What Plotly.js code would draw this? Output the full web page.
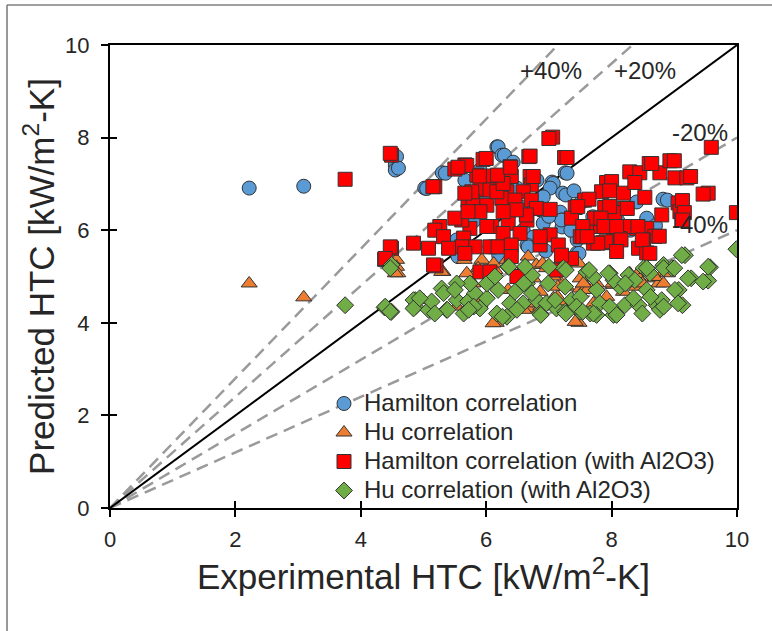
<!DOCTYPE html>
<html>
<head>
<meta charset="utf-8">
<script src="https://cdn.plot.ly/plotly-3.0.1.min.js"></script>
<style>
  html, body { margin: 0; padding: 0; background: #ffffff; }
  #chart { width: 772px; height: 631px; }
</style>
</head>
<body>
<div id="chart"></div>
<script>
// ---------------- data ----------------
const seriesNames = [
  "Hamilton correlation",
  "Hu correlation",
  "Hamilton correlation (with Al2O3)",
  "Hu correlation (with Al2O3)"
];

const hamiltonX = [2.22, 3.09, 4.55, 4.55, 4.57, 4.60, 5.02, 5.05, 5.30, 5.35, 5.66, 6.17, 6.19, 6.25, 6.29, 6.43,
  7.26, 7.29, 7.05, 7.07, 7.02, 7.22, 6.91, 6.86, 7.18, 7.21, 6.91, 7.21, 6.59, 6.75, 6.65, 7.45, 7.45, 7.70, 7.61,
  8.02, 8.40, 8.56, 8.82, 8.89, 5.53, 6.06, 7.50, 6.81, 6.38, 6.49, 7.27, 7.48, 5.55, 7.20, 6.87, 6.67, 5.90, 6.10,
  6.00, 6.30, 5.80, 6.55, 7.00, 7.35, 7.60, 8.10, 8.30, 8.70, 6.20, 6.95, 7.40];
const hamiltonY = [6.91, 6.95, 7.41, 7.30, 7.59, 7.34, 6.91, 6.90, 7.24, 7.23, 7.08, 7.80, 7.80, 7.62, 7.62, 7.47,
  7.24, 7.23, 7.04, 7.01, 6.91, 6.80, 6.72, 6.44, 6.39, 6.22, 6.15, 6.07, 6.00, 5.85, 5.68, 5.51, 5.79, 6.29, 6.65,
  6.50, 6.61, 6.26, 6.67, 6.65, 5.79, 5.64, 6.58, 7.08, 6.37, 6.91, 6.76, 5.50, 5.43, 6.22, 6.44, 5.64, 7.30, 7.10,
  6.60, 6.75, 6.20, 6.50, 6.30, 6.00, 5.95, 6.20, 6.00, 6.10, 5.45, 5.55, 6.85];

const huX = [2.22, 3.09, 4.57, 4.57, 4.59, 4.55, 5.31, 5.29, 6.16, 7.48, 6.67, 5.93, 6.62, 5.87, 5.69, 6.14, 6.80,
  6.96, 7.20, 7.28, 7.50, 7.60, 7.07, 7.18, 6.11, 7.42, 6.67, 8.03, 8.40, 8.64, 8.75, 8.83, 8.40, 8.19, 7.76, 6.86,
  6.75, 6.54, 7.07, 6.35, 7.71, 5.00, 5.53, 5.90, 7.50, 7.92, 7.20, 8.69, 8.89, 8.56, 8.02, 7.61, 7.14, 6.87, 6.60,
  6.73, 5.79, 5.65, 6.12, 6.33, 6.90, 7.20, 7.48, 7.14, 7.55, 8.29, 8.49, 8.83];
const huY = [4.85, 4.55, 5.36, 5.21, 5.07, 5.07, 5.10, 5.10, 4.00, 4.00, 5.43, 5.36, 5.25, 5.18, 5.07, 5.14, 5.25,
  5.18, 4.85, 4.78, 4.74, 4.78, 4.53, 4.46, 3.99, 4.02, 4.31, 4.82, 5.03, 4.96, 4.85, 5.10, 4.78, 4.67, 4.85, 4.67,
  4.96, 4.78, 5.00, 4.71, 4.42, 4.49, 4.35, 4.42, 4.96, 4.56, 5.28, 4.99, 5.07, 5.14, 4.85, 4.71, 4.56, 4.35, 4.28,
  4.42, 4.85, 5.36, 5.28, 5.36, 5.28, 5.36, 5.28, 4.78, 4.85, 5.07, 4.85, 4.85];

const hamAlX = [3.75, 4.49, 7.06, 9.59, 9.99, 9.54, 4.38, 4.49, 5.18, 5.20, 4.47, 7.00, 7.25, 6.68, 5.95, 5.66, 5.50,
  5.85, 6.11, 6.38, 6.40, 6.70, 6.72, 5.15, 5.90, 6.06, 6.33, 6.59, 5.71, 5.79, 6.01, 6.25, 6.46, 6.72, 6.80, 7.02,
  7.42, 7.57, 7.92, 8.00, 7.84, 7.97, 8.19, 8.29, 8.45, 8.60, 8.77, 8.93, 9.01, 9.20, 9.46, 8.37, 8.53, 9.06, 9.09,
  9.12, 8.80, 8.56, 8.40, 8.21, 7.89, 7.81, 8.03, 8.21, 8.69, 8.76, 8.51, 8.43, 8.56, 8.13, 7.87, 7.71, 7.50, 7.36,
  7.60, 7.73, 8.05, 7.02, 6.86, 7.15, 7.36, 7.20, 6.65, 6.35, 6.09, 6.01, 5.74, 6.54, 6.27, 5.61, 5.50, 5.26, 5.18,
  5.32, 5.64, 5.82, 6.06, 6.19, 6.40, 5.61, 5.40, 5.08, 4.84, 4.47, 4.39, 5.16, 5.66, 6.40, 5.90, 6.06, 6.86, 6.64,
  6.48, 6.27, 5.90, 5.71, 5.77, 5.66, 6.17, 6.27, 6.49, 7.12, 6.00, 6.70, 7.29, 5.69, 5.55, 6.18, 6.39, 5.89, 6.75,
  8.64, 9.00, 9.26, 9.13, 9.16, 9.13, 7.64, 7.46, 7.97, 8.25, 7.83, 7.54, 7.88, 8.08, 8.42, 7.54, 7.91, 8.15, 8.49,
  8.08, 8.61, 7.78, 7.61];
const hamAlY = [7.10, 7.62, 8.01, 7.79, 6.38, 6.80, 5.37, 5.61, 6.94, 5.23, 7.66, 7.98, 7.57, 7.59, 7.53, 7.41, 7.32,
  7.19, 7.17, 7.37, 7.16, 7.16, 6.98, 6.94, 6.88, 6.87, 6.83, 6.83, 6.65, 6.62, 6.54, 6.69, 6.65, 6.65, 6.47, 6.45,
  6.49, 6.65, 7.03, 7.05, 6.83, 6.85, 6.80, 7.26, 7.24, 7.44, 7.24, 7.50, 7.13, 7.13, 6.78, 7.03, 6.71, 6.59, 6.40,
  6.22, 6.33, 6.04, 6.04, 6.47, 6.49, 6.08, 6.04, 6.08, 5.87, 5.87, 5.79, 5.61, 5.51, 5.82, 5.73, 5.72, 5.86, 6.26,
  6.08, 6.26, 6.38, 5.90, 5.68, 5.68, 5.39, 5.46, 6.22, 6.15, 6.08, 6.08, 6.04, 5.93, 5.93, 6.22, 6.26, 6.08, 6.00,
  5.86, 5.83, 5.64, 5.64, 5.64, 5.68, 5.64, 5.61, 5.61, 5.72, 5.64, 5.39, 5.25, 5.50, 5.43, 5.10, 5.10, 5.86, 6.33,
  6.44, 6.40, 6.40, 6.40, 6.83, 6.80, 6.83, 7.01, 5.00, 5.14, 7.55, 7.60, 7.57, 7.40, 7.36, 7.19, 7.36, 7.17, 7.16,
  7.44, 7.50, 7.16, 6.64, 6.38, 6.22, 6.67, 6.51, 6.51, 6.47, 6.26, 6.08, 6.08, 6.08, 6.08, 5.86, 5.75, 5.79, 5.79,
  5.54, 5.50, 5.72, 5.86];

const huAlX = [9.99, 9.57, 9.54, 9.27, 9.17, 9.07, 9.13, 3.75, 4.49, 4.38, 4.49, 4.87, 4.87, 4.47, 4.39, 4.47, 4.84,
  4.84, 5.08, 5.13, 5.29, 5.37, 5.53, 5.71, 5.82, 5.90, 6.01, 6.17, 6.19, 6.38, 6.46, 6.35, 6.59, 6.65, 6.73, 6.62,
  6.80, 6.86, 6.99, 7.12, 7.26, 7.23, 7.36, 7.50, 7.66, 7.60, 7.76, 7.81, 8.03, 7.97, 8.13, 8.27, 8.21, 8.43, 8.51,
  8.56, 8.72, 8.77, 8.80, 8.83, 8.96, 9.01, 9.06, 9.12, 9.22, 9.46, 9.54, 5.74, 5.53, 5.32, 5.64, 6.01, 6.49, 7.26,
  7.50, 7.71, 8.37, 7.44, 6.96, 7.10, 7.97, 8.35, 8.61, 8.03, 6.14, 6.33, 7.76, 6.73, 5.50, 4.94, 5.80, 6.36, 6.60,
  7.00, 7.27, 7.64, 7.95, 8.22, 8.56, 8.83, 9.00, 8.62, 8.83, 8.49, 8.08, 7.71, 7.54, 7.27, 6.87, 6.26, 5.72, 5.38,
  5.18];
const huAlY = [5.59, 5.20, 4.91, 4.96, 5.46, 4.71, 4.38, 4.38, 5.25, 4.33, 4.24, 4.49, 4.35, 5.18, 4.35, 4.24, 4.49,
  4.31, 4.28, 4.46, 4.74, 4.28, 4.49, 4.46, 4.64, 4.31, 4.53, 4.20, 4.71, 4.42, 4.67, 5.21, 4.42, 4.85, 5.03, 5.21,
  4.49, 4.20, 4.85, 4.31, 4.24, 5.18, 4.49, 4.24, 4.20, 5.10, 4.71, 4.42, 4.17, 5.07, 4.78, 5.03, 4.38, 4.38, 5.18,
  4.71, 4.38, 4.28, 4.49, 5.25, 5.18, 4.71, 4.42, 5.46, 4.96, 4.89, 5.21, 4.85, 4.85, 4.64, 4.20, 4.85, 4.28, 4.78,
  4.56, 4.99, 4.92, 4.35, 4.42, 4.49, 4.35, 4.53, 5.07, 4.92, 5.00, 4.13, 4.17, 4.64, 4.71, 4.53, 4.35, 5.21, 4.85,
  5.21, 5.14, 5.14, 5.07, 4.85, 5.18, 5.18, 5.18, 4.56, 4.35, 4.20, 4.17, 4.20, 4.24, 4.20, 4.17, 4.13, 4.28, 4.28,
  4.20];

// reference lines (endpoints)
const parityX = [0, 10], parityY = [0, 10];
const plus40X = [0, 7.143], plus40Y = [0, 10];
const plus20X = [0, 8.333], plus20Y = [0, 10];
const minus20X = [0, 10], minus20Y = [0, 8];
const minus40X = [0, 10], minus40Y = [0, 6];

const tickVals = [0, 2, 4, 6, 8, 10];
const tickText = ["0", "2", "4", "6", "8", "10"];
const bandLabels = ["+40%", "+20%", "-20%", "-40%"];
const bandLabelX = [7.03, 8.53, 9.41, 9.41];
const bandLabelY = [9.46, 9.46, 8.12, 6.13];

// ---------------- chart ----------------
const FONT = "Liberation Sans, Arial, sans-serif";
const dashLine = { color: "#9a9a9a", width: 2.5, dash: "12px,7px" };
const outline = { color: "#333333", width: 1 };
const legendName = s => '<span style="font-size:24px">' + s + '</span>';

const traces = [
  { x: plus40X, y: plus40Y, mode: "lines", line: dashLine, showlegend: false, hoverinfo: "skip" },
  { x: plus20X, y: plus20Y, mode: "lines", line: dashLine, showlegend: false, hoverinfo: "skip" },
  { x: minus20X, y: minus20Y, mode: "lines", line: dashLine, showlegend: false, hoverinfo: "skip" },
  { x: minus40X, y: minus40Y, mode: "lines", line: dashLine, showlegend: false, hoverinfo: "skip" },
  { x: parityX, y: parityY, mode: "lines", line: { color: "#000000", width: 2 }, showlegend: false, hoverinfo: "skip" },
  { x: hamiltonX, y: hamiltonY, name: legendName(seriesNames[0]), mode: "markers", type: "scatter",
    marker: { symbol: "circle", size: 14, color: "#5B9BD5", line: outline } },
  { x: huX, y: huY, name: legendName(seriesNames[1]), mode: "markers", type: "scatter",
    marker: { symbol: "triangle-up", size: 14, color: "#ED7D31", line: outline } },
  { x: hamAlX, y: hamAlY, name: legendName(seriesNames[2]), mode: "markers", type: "scatter",
    marker: { symbol: "square", size: 14, color: "#FF0000", line: outline } },
  { x: huAlX, y: huAlY, name: legendName(seriesNames[3]), mode: "markers", type: "scatter",
    marker: { symbol: "diamond", size: 13, color: "#70AD47", line: outline } },
  { x: [], y: [], xaxis: "x2", yaxis: "y2", showlegend: false, hoverinfo: "skip" }
];

const annotations = bandLabels.map((t, i) => ({
  x: bandLabelX[i], y: bandLabelY[i], xref: "x", yref: "y", text: t, showarrow: false,
  font: { family: FONT, size: 24, color: "#262626" }
}));

// outer frame (paper coords computed from margins)
const W = 772, H = 631, ML = 110, MR = 35, MT = 45, MB = 123;
const PW = W - ML - MR, PH = H - MT - MB;
const px = v => (v - ML) / PW;
const py = v => (H - MB - v) / PH;

const layout = {
  width: W, height: H,
  margin: { l: ML, r: MR, t: MT, b: MB, pad: 0 },
  paper_bgcolor: "#ffffff", plot_bgcolor: "#ffffff",
  font: { family: FONT, color: "#262626" },
  showlegend: true,
  legend: {
    x: px(324), y: py(384), xanchor: "left", yanchor: "top",
    bgcolor: "rgba(0,0,0,0)", borderwidth: 0,
    font: { family: FONT, size: 20, color: "#262626" },
    tracegroupgap: 0, itemwidth: 30
  },
  xaxis: {
    range: [0, 10], tickvals: tickVals, ticktext: tickText, ticks: "outside", ticklen: 7, tickwidth: 2,
    tickcolor: "#000", showline: true, linecolor: "#000", linewidth: 2, mirror: true,
    showgrid: false, zeroline: false, ticklabelstandoff: 4,
    tickfont: { family: FONT, size: 22, color: "#262626" },
    title: { text: "Experimental HTC [kW/m<sup>2</sup>-K]", standoff: 8,
      font: { family: FONT, size: 35, color: "#262626" } }
  },
  yaxis: {
    range: [0, 10], tickvals: tickVals, ticktext: tickText, ticks: "outside", ticklen: 7, tickwidth: 2,
    tickcolor: "#000", showline: true, linecolor: "#000", linewidth: 2, mirror: true,
    showgrid: false, zeroline: false, ticklabelstandoff: 7,
    tickfont: { family: FONT, size: 22, color: "#262626" },
    title: { text: "Predicted HTC [kW/m<sup>2</sup>-K]", standoff: 0,
      font: { family: FONT, size: 35, color: "#262626" } }
  },
  xaxis2: {
    overlaying: "x", anchor: "y", side: "bottom", range: [0, 10], tickvals: tickVals,
    ticks: "inside", ticklen: 7, tickwidth: 2, tickcolor: "#000", showticklabels: false,
    showline: false, showgrid: false, zeroline: false
  },
  yaxis2: {
    overlaying: "y", anchor: "x", side: "left", range: [0, 10], tickvals: tickVals,
    ticks: "inside", ticklen: 7, tickwidth: 2, tickcolor: "#000", showticklabels: false,
    showline: false, showgrid: false, zeroline: false
  },
  annotations: annotations,
  shapes: [
    { type: "line", xref: "paper", yref: "paper", x0: px(7), x1: px(7), y0: py(631), y1: py(5),
      line: { color: "#333333", width: 1 } },
    { type: "line", xref: "paper", yref: "paper", x0: px(7), x1: px(772), y0: py(5), y1: py(5),
      line: { color: "#7f7f7f", width: 1.5 } }
  ]
};

Plotly.newPlot("chart", traces, layout, { displayModeBar: false, staticPlot: true });
</script>
</body>
</html>
